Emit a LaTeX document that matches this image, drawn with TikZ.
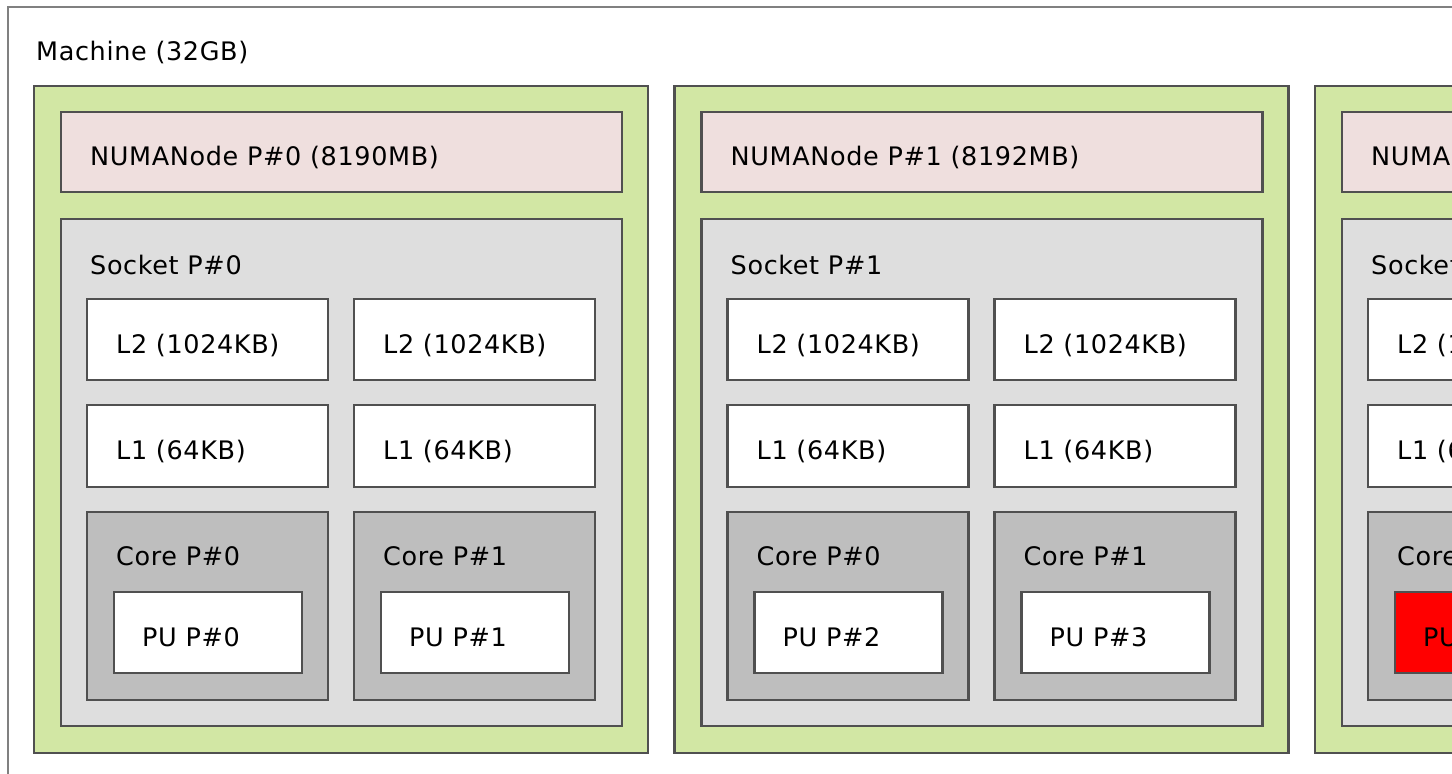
\documentclass[tikz,border=0pt]{standalone}
\usepackage{fontspec}
\setmainfont[LetterSpace=2.5]{DejaVu Sans}
\definecolor{numag}{HTML}{D2E7A4}
\definecolor{numap}{HTML}{EFDFDE}
\definecolor{sockg}{HTML}{DEDEDE}
\definecolor{coreg}{HTML}{BEBEBE}
\definecolor{bordc}{HTML}{505050}
\definecolor{machc}{HTML}{808080}
\tikzset{
  box/.style={draw=bordc, line width=2.5pt},
  lbl/.style={anchor=base west, inner sep=0pt, font=\fontsize{25.5}{30}\selectfont, text=black},
}
\begin{document}
\begin{tikzpicture}[x=1pt,y=-1pt]
\useasboundingbox (0,0) rectangle (1452,774);
\clip (0,0) rectangle (1452,774);
\fill[white] (0,0) rectangle (1452,774);
\draw[draw=machc, line width=2pt] (8,7) rectangle (1500,820);
\node[lbl] (machine) at (36,60) {Machine (32GB)};
\foreach \g/\dx/\mem/\pua/\pub/\fa in {0/0/8190/0/1/white, 1/640.5/8192/2/3/white, 2/1281/8192/4/5/red}{
  \begin{scope}[xshift=\dx pt]
    \draw[box, fill=numag] (34,86) rectangle (648,753);
    \draw[box, fill=numap] (61,112) rectangle (622,192);
    \node[lbl] (numa\g) at (90,165) {NUMANode P\#\g\ (\mem MB)};
    \draw[box, fill=sockg] (61,219) rectangle (622,726);
    \node[lbl] (sock\g) at (90,274) {Socket P\#\g};
    % L2
    \draw[box, fill=white] (87,299) rectangle (328,380);
    \draw[box, fill=white] (354,299) rectangle (595,380);
    \node[lbl] (l2a\g) at (116,353) {L2 (1024KB)};
    \node[lbl] (l2b\g) at (383,353) {L2 (1024KB)};
    % L1
    \draw[box, fill=white] (87,405) rectangle (328,487);
    \draw[box, fill=white] (354,405) rectangle (595,487);
    \node[lbl] (l1a\g) at (116,459) {L1 (64KB)};
    \node[lbl] (l1b\g) at (383,459) {L1 (64KB)};
    % Cores
    \draw[box, fill=coreg] (87,512) rectangle (328,700);
    \draw[box, fill=coreg] (354,512) rectangle (595,700);
    \node[lbl] (corea\g) at (116,565) {Core P\#0};
    \node[lbl] (coreb\g) at (383,565) {Core P\#1};
    % PUs
    \draw[box, fill=\fa] (114,592) rectangle (302,673);
    \draw[box, fill=white] (381,592) rectangle (569,673);
    \node[lbl] (pua\g) at (142,646) {PU P\#\pua};
    \node[lbl] (pub\g) at (409,646) {PU P\#\pub};
  \end{scope}
}
\end{tikzpicture}
\end{document}
